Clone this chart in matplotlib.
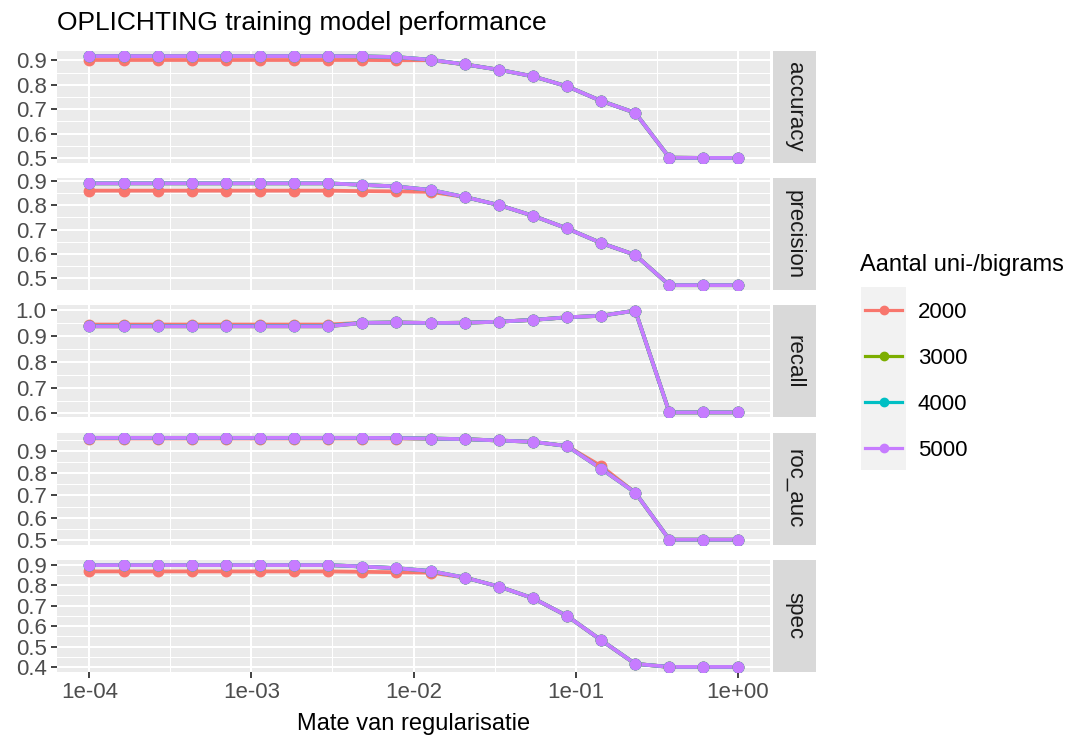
import numpy as np
import matplotlib
matplotlib.use("Agg")
import matplotlib.pyplot as plt
from matplotlib.lines import Line2D
from matplotlib.patches import Rectangle
from matplotlib.ticker import FixedLocator, NullFormatter, NullLocator

plt.rcParams['font.family'] = ['Liberation Sans', 'DejaVu Sans']

# regularisation penalties (x axis)
penalty = [1.000e-04, 1.624e-04, 2.637e-04, 4.281e-04, 6.952e-04,
           1.129e-03, 1.833e-03, 2.976e-03, 4.833e-03, 7.848e-03,
           1.274e-02, 2.069e-02, 3.360e-02, 5.456e-02, 8.859e-02,
           1.438e-01, 2.336e-01, 3.793e-01, 6.158e-01, 1.000e+00]

sizes = ['2000', '3000', '4000', '5000']
colors = ['#F8766D', '#7CAE00', '#00BFC4', '#C77CFF']
metrics = ['accuracy', 'precision', 'recall', 'roc_auc', 'spec']

accuracy_2000 = [0.902, 0.902, 0.902, 0.902, 0.902, 0.902, 0.902, 0.902, 0.902, 0.901,
                 0.901, 0.884, 0.862, 0.835, 0.794, 0.734, 0.685, 0.501, 0.500, 0.500]
accuracy_3000 = [0.918, 0.918, 0.918, 0.918, 0.918, 0.918, 0.918, 0.918, 0.917, 0.914,
                 0.903, 0.884, 0.862, 0.835, 0.794, 0.734, 0.685, 0.501, 0.500, 0.500]
accuracy_4000 = [0.918, 0.918, 0.918, 0.918, 0.918, 0.918, 0.918, 0.918, 0.917, 0.914,
                 0.903, 0.884, 0.862, 0.835, 0.794, 0.734, 0.685, 0.501, 0.500, 0.500]
accuracy_5000 = [0.918, 0.918, 0.918, 0.918, 0.918, 0.918, 0.918, 0.918, 0.917, 0.914,
                 0.903, 0.884, 0.862, 0.835, 0.794, 0.734, 0.685, 0.501, 0.500, 0.500]

precision_2000 = [0.860, 0.860, 0.860, 0.860, 0.860, 0.860, 0.860, 0.860, 0.858, 0.857,
                  0.855, 0.834, 0.801, 0.757, 0.705, 0.645, 0.596, 0.472, 0.472, 0.472]
precision_3000 = [0.890, 0.890, 0.890, 0.890, 0.890, 0.890, 0.890, 0.890, 0.884, 0.877,
                  0.863, 0.834, 0.801, 0.757, 0.705, 0.645, 0.596, 0.472, 0.472, 0.472]
precision_4000 = [0.890, 0.890, 0.890, 0.890, 0.890, 0.890, 0.890, 0.890, 0.884, 0.877,
                  0.863, 0.834, 0.801, 0.757, 0.705, 0.645, 0.596, 0.472, 0.472, 0.472]
precision_5000 = [0.890, 0.890, 0.890, 0.890, 0.890, 0.890, 0.890, 0.890, 0.884, 0.877,
                  0.863, 0.834, 0.801, 0.757, 0.705, 0.645, 0.596, 0.472, 0.472, 0.472]

recall_2000 = [0.944, 0.944, 0.944, 0.944, 0.944, 0.944, 0.944, 0.944, 0.951, 0.952,
               0.950, 0.951, 0.955, 0.962, 0.972, 0.978, 0.998, 0.604, 0.604, 0.604]
recall_3000 = [0.937, 0.937, 0.937, 0.937, 0.937, 0.937, 0.937, 0.937, 0.950, 0.952,
               0.950, 0.951, 0.955, 0.962, 0.972, 0.978, 0.998, 0.604, 0.604, 0.604]
recall_4000 = [0.938, 0.938, 0.938, 0.938, 0.938, 0.938, 0.938, 0.938, 0.951, 0.952,
               0.950, 0.951, 0.955, 0.962, 0.972, 0.978, 0.998, 0.604, 0.604, 0.604]
recall_5000 = [0.937, 0.937, 0.937, 0.937, 0.937, 0.937, 0.937, 0.937, 0.950, 0.952,
               0.950, 0.951, 0.955, 0.962, 0.972, 0.978, 0.998, 0.604, 0.604, 0.604]

roc_auc_2000 = [0.958, 0.958, 0.958, 0.958, 0.958, 0.958, 0.958, 0.958, 0.958, 0.958,
                0.957, 0.955, 0.949, 0.943, 0.924, 0.833, 0.713, 0.500, 0.500, 0.500]
roc_auc_3000 = [0.961, 0.961, 0.961, 0.961, 0.961, 0.961, 0.961, 0.961, 0.961, 0.960,
                0.958, 0.955, 0.949, 0.943, 0.924, 0.821, 0.713, 0.500, 0.500, 0.500]
roc_auc_4000 = [0.961, 0.961, 0.961, 0.961, 0.961, 0.961, 0.961, 0.961, 0.961, 0.960,
                0.958, 0.955, 0.949, 0.943, 0.924, 0.821, 0.713, 0.500, 0.500, 0.500]
roc_auc_5000 = [0.961, 0.961, 0.961, 0.961, 0.961, 0.961, 0.961, 0.961, 0.961, 0.960,
                0.958, 0.955, 0.949, 0.943, 0.924, 0.821, 0.713, 0.500, 0.500, 0.500]

spec_2000 = [0.868, 0.868, 0.868, 0.868, 0.868, 0.868, 0.868, 0.868, 0.866, 0.864,
             0.862, 0.838, 0.794, 0.737, 0.650, 0.531, 0.415, 0.400, 0.400, 0.400]
spec_3000 = [0.899, 0.899, 0.899, 0.899, 0.899, 0.899, 0.899, 0.899, 0.892, 0.884,
             0.870, 0.838, 0.794, 0.737, 0.650, 0.531, 0.415, 0.400, 0.400, 0.400]
spec_4000 = [0.899, 0.899, 0.899, 0.899, 0.899, 0.899, 0.899, 0.899, 0.892, 0.884,
             0.870, 0.838, 0.794, 0.737, 0.650, 0.531, 0.415, 0.400, 0.400, 0.400]
spec_5000 = [0.899, 0.899, 0.899, 0.899, 0.899, 0.899, 0.899, 0.899, 0.892, 0.884,
             0.870, 0.838, 0.794, 0.737, 0.650, 0.531, 0.415, 0.400, 0.400, 0.400]

x_breaks = [1e-4, 1e-3, 1e-2, 1e-1, 1e0]
x_minor = [10 ** -3.5, 10 ** -2.5, 10 ** -1.5, 10 ** -0.5]
x_labels = ['1e-04', '1e-03', '1e-02', '1e-01', '1e+00']

data = {
    'accuracy': [accuracy_2000, accuracy_3000, accuracy_4000, accuracy_5000],
    'precision': [precision_2000, precision_3000, precision_4000, precision_5000],
    'recall': [recall_2000, recall_3000, recall_4000, recall_5000],
    'roc_auc': [roc_auc_2000, roc_auc_3000, roc_auc_4000, roc_auc_5000],
    'spec': [spec_2000, spec_3000, spec_4000, spec_5000],
}

W, H = 1071, 740
LW, MS = 2.7, 7.5


def px(left, top, width, height):
    """Pixel box (from top-left) to figure fraction."""
    return [left / W, 1 - (top + height) / H, width / W, height / H]


fig = plt.figure(figsize=(W / 100, H / 100), dpi=100)

panel_left, panel_width, panel_height = 57, 713, 112
tops = [51 + i * 127.25 for i in range(len(metrics))]

for i, metric in enumerate(metrics):
    bottom_panel = i == len(metrics) - 1
    ax = fig.add_axes(px(panel_left, tops[i], panel_width, panel_height))
    ax.set_facecolor('#EBEBEB')
    for s in ax.spines.values():
        s.set_visible(False)

    series = data[metric]
    for vals, col in zip(series, colors):
        ax.plot(penalty, vals, color=col, linewidth=LW, solid_capstyle='butt', zorder=2)
    for vals, col in zip(series, colors):
        ax.plot(penalty, vals, linestyle='none', marker='o', markersize=MS,
                markerfacecolor=col, markeredgecolor=col, zorder=3)

    ax.set_xscale('log')
    ax.set_xlim(10 ** -4.2, 10 ** 0.2)
    lo = min(min(v) for v in series)
    hi = max(max(v) for v in series)
    pad = (hi - lo) * 0.05
    ax.set_ylim(lo - pad, hi + pad)

    major_y = [round(v, 1) for v in np.arange(0.0, 1.05, 0.1) if lo - pad <= v <= hi + pad]
    minor_y = [v + 0.05 for v in np.arange(-0.1, 1.05, 0.1) if lo - pad <= v + 0.05 <= hi + pad]
    ax.yaxis.set_major_locator(FixedLocator(major_y))
    ax.yaxis.set_minor_locator(FixedLocator(minor_y))
    ax.set_yticklabels(['%.1f' % v for v in major_y])
    ax.grid(axis='y', which='major', color='white', linewidth=1.5)
    ax.grid(axis='y', which='minor', color='white', linewidth=0.75)

    # vertical grid drawn directly so only the bottom panel carries x ticks
    for b in x_breaks:
        ax.axvline(b, color='white', linewidth=1.5, zorder=0.8)
    for b in x_minor:
        ax.axvline(b, color='white', linewidth=0.75, zorder=0.8)
    if bottom_panel:
        ax.xaxis.set_major_locator(FixedLocator(x_breaks))
        ax.set_xticklabels(x_labels)
    else:
        ax.xaxis.set_major_locator(NullLocator())
    ax.xaxis.set_minor_locator(NullLocator())
    ax.xaxis.set_minor_formatter(NullFormatter())

    ax.set_axisbelow(True)
    ax.tick_params(which='major', length=4.5, width=1.3, color='#333333',
                   labelsize=16, labelcolor='#4D4D4D', pad=3)
    ax.tick_params(which='minor', length=0)

    sax = fig.add_axes(px(773, tops[i], 43, panel_height))
    sax.set_facecolor('#D9D9D9')
    sax.set_xticks([])
    sax.set_yticks([])
    for s in sax.spines.values():
        s.set_visible(False)
    sax.text(0.5, 0.5, metric, rotation=-90, ha='center', va='center',
             fontsize=16, color='#1A1A1A', transform=sax.transAxes)

# titles
fig.text(57 / W, 1 - 30 / H, 'OPLICHTING training model performance',
         fontsize=19, va='baseline', ha='left')
fig.text((panel_left + panel_width / 2) / W, 1 - 730 / H, 'Mate van regularisatie',
         fontsize=17, va='baseline', ha='center')

# legend
fig.text(860 / W, 1 - 271 / H, 'Aantal uni-/bigrams', fontsize=17, va='baseline', ha='left')
fig.patches.append(Rectangle((861 / W, 1 - 470 / H), 45 / W, 183 / H,
                             transform=fig.transFigure, facecolor='#F2F2F2',
                             edgecolor='none', zorder=0))
key_y = [310, 356, 402, 448]
for label, col, ky in zip(sizes, colors, key_y):
    fig.add_artist(Line2D([865 / W, 902 / W], [1 - ky / H, 1 - ky / H],
                          transform=fig.transFigure, color=col, linewidth=LW * 0.85))
    fig.add_artist(Line2D([883.5 / W], [1 - ky / H], transform=fig.transFigure,
                          marker='o', markersize=MS * 0.8, color=col, linestyle='none'))
    fig.text(918 / W, 1 - ky / H, label, fontsize=16, va='center_baseline', ha='left')

fig.savefig('out.png', dpi=100, facecolor='white')
